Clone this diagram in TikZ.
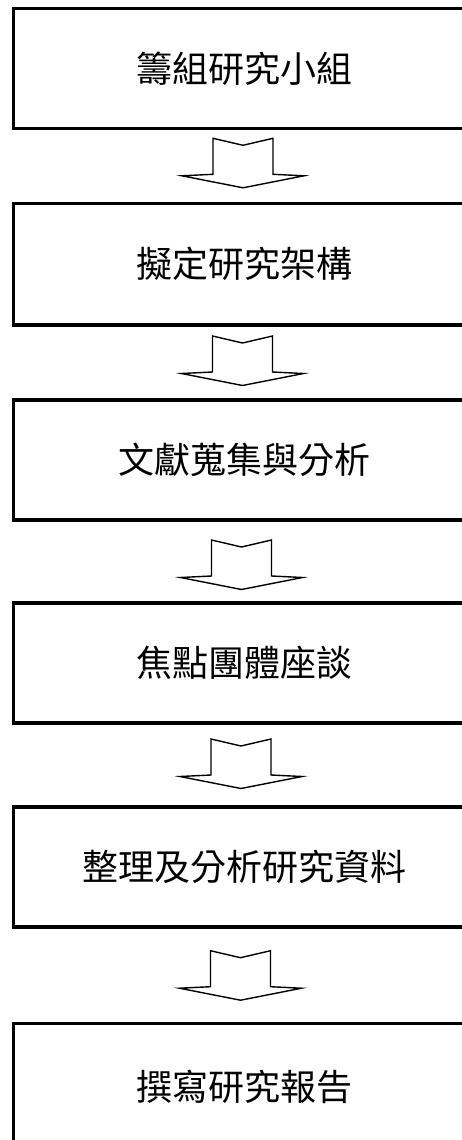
\documentclass[tikz,border=0pt]{standalone}
\usepackage{fontspec}
\newfontfamily\cjk{Noto Sans CJK TC}
\tikzset{
  stepbox/.style={draw=black, line width=3.6pt, fill=white, minimum width=462.5pt, inner sep=0pt,
    font=\cjk\fontsize{36}{40}\selectfont, text=black},
  arrowline/.style={draw=black, line width=1.4pt, line join=miter, fill=white},
  blockarrow/.pic={
    \draw[arrowline] (-30,0) -- (0,7) -- (30,0) -- (30,36) -- (61,37.5) -- (0,49.5)
      -- (-61,37.5) -- (-30,36) -- cycle;
  }
}
\begin{document}
\begin{tikzpicture}[x=1pt,y=-1pt]
\useasboundingbox (0,0) rectangle (462,1140);
\clip (0,0) rectangle (462,1140);
\fill[white] (0,0) rectangle (462,1140);
\node[stepbox, minimum height=120pt]   (b1) at (244.75,68.5)   {籌組研究小組};
\node[stepbox, minimum height=121.7pt] (b2) at (244.75,264.15) {擬定研究架構};
\node[stepbox, minimum height=120pt]   (b3) at (244.75,460)    {文獻蒐集與分析};
\node[stepbox, minimum height=120.3pt] (b4) at (244.75,662.85) {焦點團體座談};
\node[stepbox, minimum height=120pt]   (b5) at (244.75,866.7)  {整理及分析研究資料};
\node[stepbox, minimum height=126.7pt] (b6) at (244.75,1086.65){撰寫研究報告};
\pic (a1) at (243,138.3)   {blockarrow};
\pic (a2) at (242.5,336)   {blockarrow};
\pic (a3) at (241.5,540)   {blockarrow};
\pic (a4) at (241,739)     {blockarrow};
\pic (a5) at (240.5,950.7) {blockarrow};
\end{tikzpicture}
\end{document}
